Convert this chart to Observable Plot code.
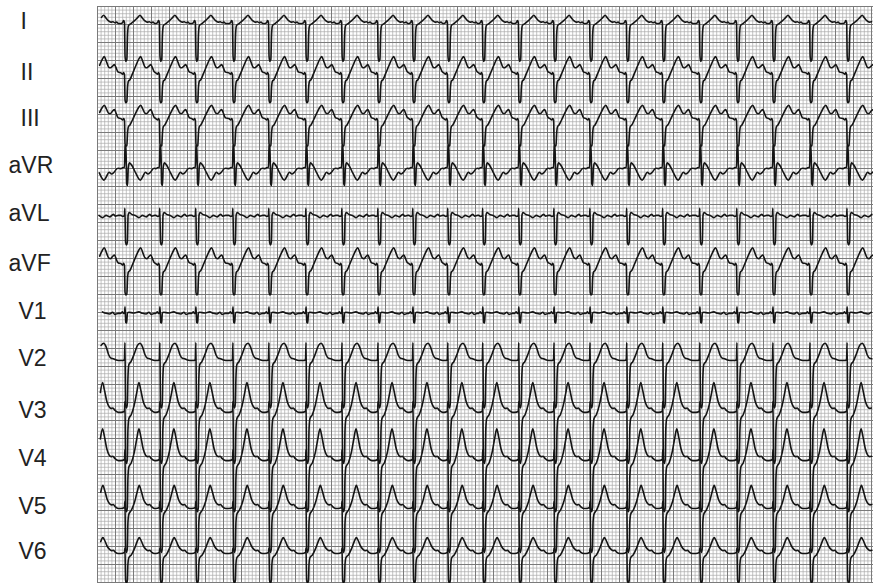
<!DOCTYPE html>
<html>
<head>
<meta charset="utf-8">
<script src="https://cdn.jsdelivr.net/npm/d3@7"></script>
<script src="https://cdn.jsdelivr.net/npm/@observablehq/plot@0.6"></script>
<style>
  html, body { margin: 0; padding: 0; background: #fff; }
  #chart svg { display: block; }
</style>
</head>
<body>
<div id="chart"></div>
<script>
// ---- data (units: mm of ECG paper; t relative to QRS, v up) ----
const leads = ["I", "II", "III", "aVR", "aVL", "aVF", "V1", "V2", "V3", "V4", "V5", "V6"];
// baseline of each lead, mm down from the top of the paper
const baselines = [6.4, 20.6, 33.3, 46.4, 59.7, 73.6, 86.9, 100, 114.4, 127.8, 141.1, 153.6];
// QRS times, mm from the left edge of the paper (one leading partial beat)
const beatTimes = [-2.6, 7.5, 17.2, 27.2, 37.5, 47.5, 57.8, 67.8, 77.8, 87.5, 97.2, 106.9, 116.9,
  126.7, 136.7, 146.9, 156.9, 167.2, 177.5, 187.5, 197.8, 208.1];

const beatI = [[-1.0,0],[-0.5,0.3],[-0.25,0.8],[0,0.3],[0.15,-9],[0.35,-10.5],[0.65,-10],[0.85,-3],[1.1,-0.6],[1.8,0],[2.8,0.8],[3.7,1.7],[4.3,2.3],[4.9,1.6],[5.6,0.8],[6.3,0.4],[6.9,0.5],[7.4,0.2],[7.9,0.4],[8.4,0]];
const beatII = [[-1.0,0.5],[-0.5,0.1],[-0.25,0.6],[0,0],[0.15,-7],[0.35,-7.8],[0.65,-7.5],[0.85,-3.5],[1.1,-1.8],[1.5,-1.4],[2.2,0.2],[3.2,2.6],[4.0,4.4],[4.5,5],[5.1,3.6],[5.7,2.1],[6.2,1.9],[6.8,2.4],[7.3,2.8],[7.8,1.8],[8.2,0.9],[8.4,0.7]];
const beatIII = [[-1.0,0.5],[-0.5,0.1],[-0.25,0.5],[0,0],[0.15,-6.5],[0.35,-7.2],[0.65,-7],[0.85,-3.5],[1.1,-1.7],[1.5,-1.3],[2.2,0.1],[3.2,2.2],[4.0,3.7],[4.5,4.2],[5.1,3.1],[5.7,2.0],[6.2,1.9],[6.8,2.6],[7.3,3.0],[7.8,1.9],[8.2,0.9],[8.4,0.7]];
const beatAVR = [[-1.0,-0.3],[-0.4,0],[0,0],[0.15,6],[0.4,6.2],[0.6,-4.5],[0.85,-5],[1.05,0],[1.4,1.3],[2.1,0.5],[3.1,-1.5],[4.4,-3.5],[5.1,-2.5],[5.8,-1.3],[6.5,-1.8],[7.2,-1.3],[8,-0.3],[8.4,-0.2]];
const beatAVL = [[-1.0,0],[-0.5,-0.3],[0,0],[0.1,2],[0.3,-7.5],[0.55,-8.2],[0.8,-7.5],[1.0,0],[1.3,0.8],[2,0.3],[3,0],[4,-0.6],[5,0],[6,-0.4],[7,0.3],[7.6,-0.2],[8.4,0]];
const beatAVF = [[-1.0,0.5],[-0.5,0.1],[-0.25,0.6],[0,0],[0.15,-7.5],[0.35,-8.2],[0.65,-8],[0.85,-3.5],[1.1,-1.8],[1.5,-1.4],[2.2,0.2],[3.2,2.6],[4.0,4.3],[4.5,4.9],[5.1,3.5],[5.7,2.1],[6.2,1.9],[6.8,2.5],[7.3,2.9],[7.8,1.8],[8.2,0.9],[8.4,0.7]];
const beatV1 = [[-1.0,0],[-0.6,0.4],[-0.3,0],[0,0],[0.15,1.8],[0.35,-2.5],[0.6,-2.7],[0.8,0],[1.2,0.3],[2.5,0.1],[4,0.4],[5,0],[6,-0.2],[6.8,0.3],[7.4,-0.3],[8.4,0]];
const beatV2 = [[-1.0,0],[-0.3,0],[0,0.5],[0.12,5],[0.3,-12.5],[0.55,-13.2],[0.8,-12],[0.95,-5],[1.2,-1.2],[1.8,-0.3],[2.7,1.8],[3.6,4.2],[4.3,4.8],[5.0,3.8],[5.7,1.6],[6.4,0.6],[7,0.5],[7.6,0.2],[8.4,0]];
const beatV3 = [[-1,0],[0,0.3],[0.12,3],[0.3,-13.5],[0.55,-14.2],[0.8,-13],[0.95,-5],[1.2,-1.8],[1.9,-0.6],[2.7,2],[3.4,5.5],[4.0,8.3],[4.5,6.3],[5.2,3],[5.8,1.6],[6.4,1.1],[6.9,1.2],[7.4,0.6],[8.4,0]];
const beatV4 = [[-1,0],[0,0.3],[0.12,3],[0.3,-13.5],[0.55,-14.2],[0.8,-13],[0.95,-5],[1.2,-1.8],[1.9,-0.6],[2.7,2.2],[3.4,6],[4.0,8.8],[4.5,6.8],[5.2,3.2],[5.8,1.6],[6.4,1.1],[6.9,1.2],[7.4,0.6],[8.4,0]];
const beatV5 = [[-1,0],[0,0.3],[0.12,2],[0.3,-11.5],[0.55,-12.2],[0.8,-11],[0.95,-4],[1.2,-1.6],[1.9,-0.5],[2.8,1.8],[3.5,4.5],[4.1,6.4],[4.6,5],[5.3,2.5],[5.9,1.4],[6.5,1.0],[7.0,1.1],[7.5,0.5],[8.4,0]];
const beatV6 = [[-1,0],[0,0.3],[0.12,1.5],[0.3,-7.5],[0.55,-8.2],[0.8,-7.5],[0.95,-3],[1.2,-1.2],[1.9,-0.4],[2.8,1.4],[3.5,3.3],[4.1,4.4],[4.6,3.6],[5.3,2],[5.9,1.2],[6.5,0.8],[7.0,0.9],[7.5,0.4],[8.4,0]];
const beats = [beatI, beatII, beatIII, beatAVR, beatAVL, beatAVF, beatV1, beatV2, beatV3, beatV4, beatV5, beatV6];

// ---- layout ----
const W = 873, H = 583, PX = 3.6;           // px per mm
const left = 97;                             // paper starts here (px)
const paperW = (W - left) / PX, paperH = H / PX;
const gridTop = 6 / PX;                      // small white strip above the paper

const traces = [];
leads.forEach((lead, i) => {
  beatTimes.forEach(b => {
    for (const [t, v] of beats[i]) {
      const x = b + t;
      if (x >= 0.2 && x <= paperW - 0.1) traces.push({lead, x, y: baselines[i] - v});
    }
  });
});

const labels = leads.map((lead, i) => ({
  lead,
  x: (lead.startsWith("a") ? 8 : lead.startsWith("V") ? 18 : 20) / PX - left / PX,
  y: baselines[i] - 0.5
}));

const minor = d3.range(0, paperW, 1), major = d3.range(0, paperW, 5);
const minorY = d3.range(gridTop, paperH, 1), majorY = d3.range(gridTop, paperH, 5);

const chart = Plot.plot({
  width: W, height: H, margin: 0,
  x: {domain: [-left / PX, paperW], axis: null},
  y: {domain: [0, paperH], reverse: true, axis: null},
  marks: [
    Plot.ruleX(minor, {y1: gridTop, y2: paperH, stroke: "#aaaaaa", strokeWidth: 0.7}),
    Plot.ruleY(minorY, {x1: 0, x2: paperW, stroke: "#aaaaaa", strokeWidth: 0.7}),
    Plot.ruleX(major, {y1: gridTop, y2: paperH, stroke: "#7a7a7a", strokeWidth: 1}),
    Plot.ruleY(majorY, {x1: 0, x2: paperW, stroke: "#7a7a7a", strokeWidth: 1}),
    Plot.line(traces, {x: "x", y: "y", z: "lead", stroke: "#151515", strokeWidth: 1.6, curve: "monotone-x"}),
    Plot.text(labels, {x: "x", y: "y", text: "lead", textAnchor: "start", fontSize: 23, fill: "#222",
      fontFamily: "Liberation Sans, Arial, sans-serif"})
  ]
});
document.getElementById("chart").appendChild(chart);
</script>
</body>
</html>
